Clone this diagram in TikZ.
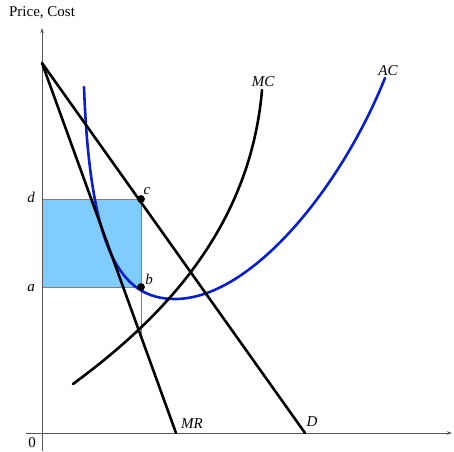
\documentclass[tikz,border=0pt]{standalone}
\usepackage{fontspec}
\setmainfont{Liberation Serif}
\usetikzlibrary{arrows.meta}
\definecolor{areablue}{HTML}{80CCFF}
\definecolor{acblue}{HTML}{0A1FCC}
\definecolor{axisgray}{HTML}{555555}
\begin{document}
\begin{tikzpicture}[x=1pt,y=-1pt,
  axisline/.style={draw=axisgray,line width=0.9pt,-{Stealth[length=5pt,width=3.5pt]}},
  curveline/.style={line width=2.6pt,line cap=round},
  guide/.style={draw=gray,line width=1pt},
  dotmark/.style={circle,fill=black,inner sep=0pt,minimum size=7.5pt},
  lbl/.style={font=\fontsize{15}{18}\selectfont\itshape,inner sep=0pt},
  plainlbl/.style={font=\fontsize{15}{18}\selectfont,inner sep=0pt}]
\useasboundingbox (0,0) rectangle (454,451);
% coordinates
\coordinate (top) at (42,63);
\coordinate (Dend) at (305,433);
\coordinate (MRend) at (176,433);
\coordinate (qm) at (141,334);
\coordinate (aa) at (42,287);
\coordinate (dd) at (42,199);
% shaded profit area
\fill[areablue] (aa) rectangle (141,199);
\node[dotmark] (c) at (141,199) {};
\node[dotmark] (b) at (141,287) {};
\draw[guide] (dd) -- (c.center);
\draw[guide] (aa) -- (b.center);
\draw[guide] (c.center) -- (qm);
% axes
\coordinate (xs) at (26,433);
\coordinate (xe) at (452,433);
\coordinate (ys) at (42,451);
\coordinate (ye) at (42,28);
\draw[axisline] (xs) -- (xe);
\draw[axisline] (ys) -- (ye);
% curves
\draw[curveline,acblue] (84,87) .. controls (90,250) and (120,299) .. (175,299)
   .. controls (250,299) and (340,190) .. (385,78);
\draw[curveline] (73,384) .. controls (160,320) and (250,230) .. (262,90);
\draw[curveline] (top) -- (Dend);
\draw[curveline] (top) -- (MRend);
\node[dotmark] at (c) {};
\node[dotmark] at (b) {};
% labels
\node[plainlbl] (title) at (42,13) {Price, Cost};
\node[plainlbl] (zero) at (32,443) {0};
\node[lbl] (dl) at (31,197) {d};
\node[lbl] (al) at (31,288) {a};
\node[lbl] (cl) at (147,191) {c};
\node[lbl] (bl) at (149,279) {b};
\node[lbl] (mcl) at (263,82) {MC};
\node[lbl] (acl) at (388,71) {AC};
\node[lbl] (mrl) at (192,424) {MR};
\node[lbl] (dlab) at (312,422) {D};
\end{tikzpicture}
\end{document}
